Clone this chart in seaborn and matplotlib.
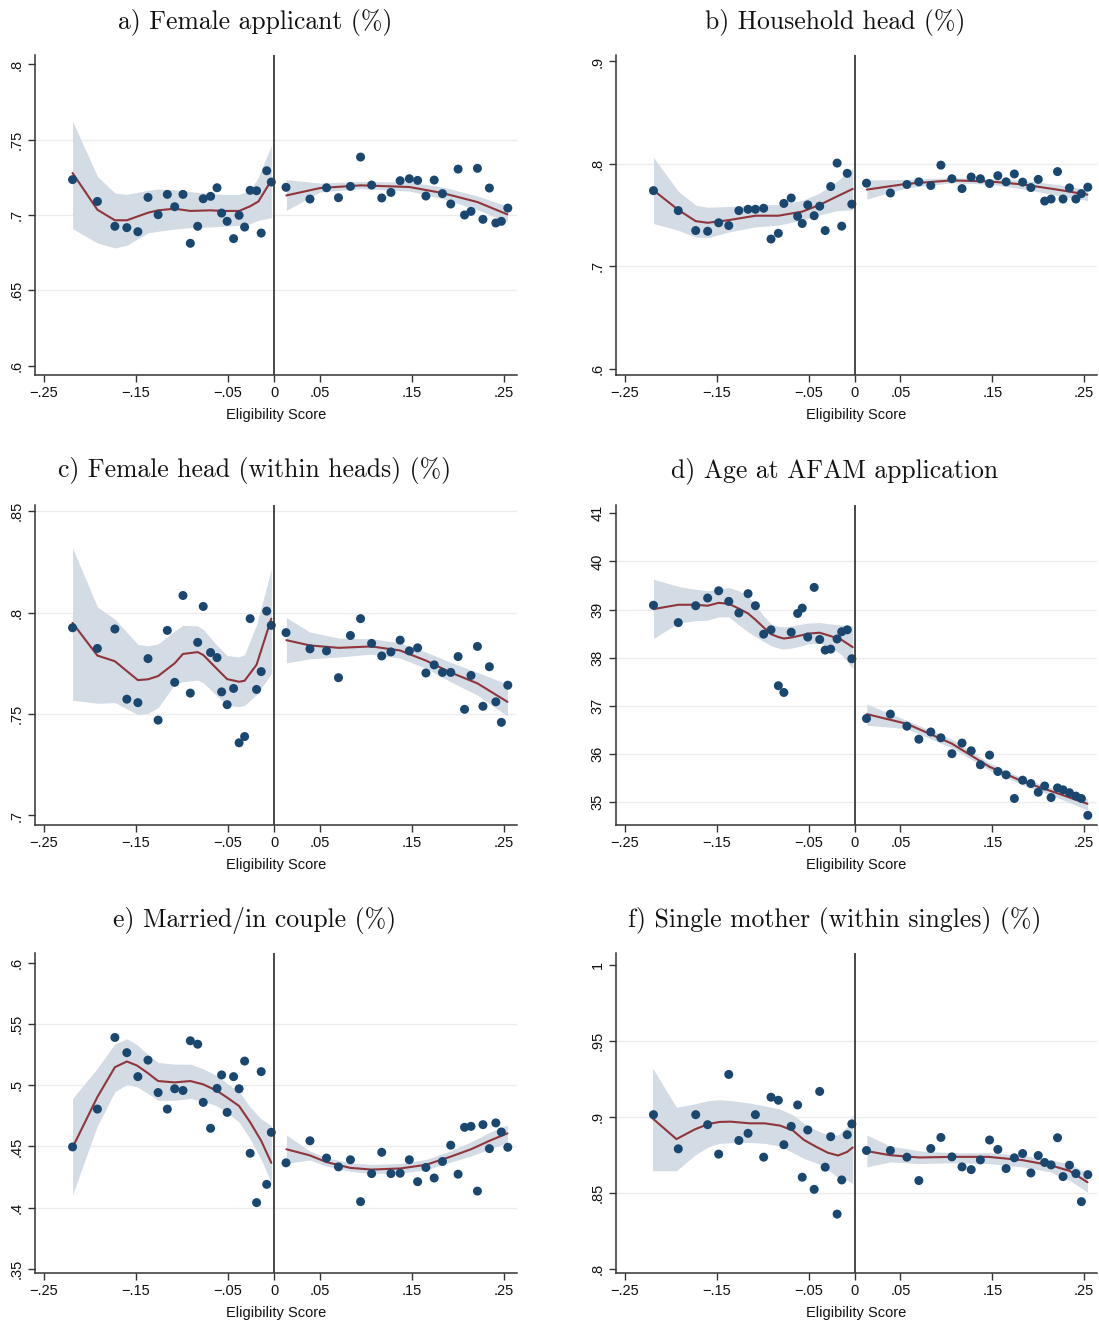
import numpy as np
import pandas as pd
import seaborn as sns
import matplotlib
matplotlib.use("Agg")
import matplotlib.pyplot as plt

sns.set_theme(style="ticks")
plt.rcParams['font.family'] = ['Liberation Sans', 'DejaVu Sans']
plt.rcParams['axes.unicode_minus'] = True

# ---------------- data ----------------
x_left = [-0.219, -0.192, -0.173, -0.160, -0.148, -0.137, -0.126, -0.116, -0.108, -0.099, -0.091, -0.083, -0.077,
          -0.069, -0.062, -0.057, -0.051, -0.044, -0.038, -0.032, -0.026, -0.019, -0.014, -0.008, -0.003]
x_right = [0.013, 0.039, 0.057, 0.070, 0.083, 0.094, 0.106, 0.117, 0.127, 0.137, 0.147, 0.156, 0.165,
           0.174, 0.183, 0.192, 0.200, 0.207, 0.214, 0.221, 0.227, 0.234, 0.241, 0.247, 0.254]

titles = ["a) Female applicant (%)", "b) Household head (%)", "c) Female head (within heads) (%)",
          "d) Age at AFAM application", "e) Married/in couple (%)", "f) Single mother (within singles) (%)"]
xtick_vals = [-0.25, -0.15, -0.05, 0, 0.05, 0.15, 0.25]
xtick_labels = ["\u2212.25", "\u2212.15", "\u2212.05", "0", ".05", ".15", ".25"]

# panel a
a_left = [0.7235, 0.709, 0.6925, 0.6916, 0.6889, 0.7117, 0.7002, 0.7137, 0.7055, 0.7137, 0.6812, 0.6925, 0.7108,
          0.7124, 0.7181, 0.7013, 0.6958, 0.6843, 0.6998, 0.692, 0.7164, 0.7161, 0.688, 0.7294, 0.7219]
a_right = [0.7184, 0.7106, 0.7181, 0.7115, 0.719, 0.7385, 0.7199, 0.7113, 0.715, 0.7228, 0.7241, 0.723, 0.7126,
           0.7232, 0.7142, 0.7073, 0.7305, 0.7, 0.7024, 0.731, 0.6971, 0.7179, 0.6947, 0.6958, 0.7046]
a_fitL_x = [-0.219, -0.192, -0.173, -0.160, -0.137, -0.126, -0.108, -0.091, -0.069, -0.057, -0.038, -0.026, -0.017, -0.003]
a_fitL = [0.7279, 0.7035, 0.6965, 0.6965, 0.7015, 0.7031, 0.7042, 0.7027, 0.7031, 0.7027, 0.7027, 0.7058, 0.7090, 0.7230]
a_fitL_hi = [0.7624, 0.7257, 0.7146, 0.7137, 0.7164, 0.7173, 0.7168, 0.7155, 0.7142, 0.7137, 0.7137, 0.7164, 0.7252, 0.7462]
a_fitL_lo = [0.6909, 0.6814, 0.6781, 0.6799, 0.6881, 0.6892, 0.6907, 0.6916, 0.6920, 0.6925, 0.6931, 0.6942, 0.6965, 0.6982]
a_fitR_x = [0.0134, 0.05, 0.0942, 0.1471, 0.183, 0.221, 0.2536]
a_fitR = [0.7130, 0.7179, 0.7197, 0.7186, 0.7146, 0.7086, 0.7004]
a_fitR_hi = [0.7235, 0.7212, 0.7223, 0.7219, 0.7186, 0.7126, 0.7058]
a_fitR_lo = [0.7031, 0.7153, 0.7175, 0.7159, 0.7108, 0.7035, 0.6954]

# panel b
b_left = [0.7738, 0.7543, 0.7348, 0.7341, 0.7424, 0.7397, 0.7543, 0.7556, 0.7556, 0.7566, 0.7265, 0.7321, 0.7613,
          0.7666, 0.7487, 0.7417, 0.7599, 0.7493, 0.7586, 0.7348, 0.7778, 0.8007, 0.7391, 0.7907, 0.7606]
b_right = [0.7811, 0.7715, 0.7798, 0.7824, 0.7788, 0.7987, 0.7854, 0.7758, 0.7871, 0.7854, 0.7808, 0.7884, 0.7824,
           0.7901, 0.7821, 0.7768, 0.7848, 0.7636, 0.7656, 0.7924, 0.7656, 0.7765, 0.7656, 0.7709, 0.7772]
b_fitL_x = [-0.219, -0.192, -0.173, -0.160, -0.137, -0.108, -0.083, -0.057, -0.038, -0.019, -0.002]
b_fitL = [0.7742, 0.7550, 0.7440, 0.7424, 0.7450, 0.7493, 0.7493, 0.7533, 0.7599, 0.7682, 0.7755]
b_fitL_hi = [0.8063, 0.7732, 0.7596, 0.7576, 0.7583, 0.7596, 0.7603, 0.7642, 0.7715, 0.7831, 0.7954]
b_fitL_lo = [0.7417, 0.7351, 0.7285, 0.7278, 0.7334, 0.7384, 0.7401, 0.7450, 0.7500, 0.7543, 0.7550]
b_fitR_x = [0.0134, 0.0569, 0.1058, 0.1467, 0.1833, 0.2207, 0.2536]
b_fitR = [0.7748, 0.7805, 0.7838, 0.7828, 0.7798, 0.7748, 0.7699]
b_fitR_hi = [0.7841, 0.7848, 0.7864, 0.7854, 0.7838, 0.7798, 0.7748]
b_fitR_lo = [0.7656, 0.7765, 0.7815, 0.7801, 0.7755, 0.7692, 0.7642]

# panel c
c_left = [0.7925, 0.7823, 0.7919, 0.7573, 0.7556, 0.7773, 0.747, 0.7912, 0.7656, 0.8084, 0.7603, 0.7853, 0.803,
          0.7803, 0.7778, 0.7609, 0.7546, 0.7626, 0.7358, 0.7389, 0.797, 0.7621, 0.7709, 0.8007, 0.7937]
c_right = [0.7901, 0.7821, 0.7811, 0.7679, 0.7887, 0.797, 0.7848, 0.7786, 0.7806, 0.7864, 0.7811, 0.7826, 0.7702,
           0.7742, 0.7705, 0.7705, 0.7783, 0.7523, 0.769, 0.7833, 0.7538, 0.7733, 0.756, 0.7459, 0.7642]
c_fitL_x = [-0.219, -0.192, -0.173, -0.148, -0.137, -0.126, -0.108, -0.099, -0.083, -0.077, -0.062, -0.051, -0.038,
            -0.032, -0.019, -0.003]
c_fitL = [0.7949, 0.7788, 0.7760, 0.7667, 0.7671, 0.7687, 0.7750, 0.7796, 0.7805, 0.7791, 0.7722, 0.7672, 0.7659,
          0.7664, 0.7743, 0.7970]
c_fitL_hi = [0.8318, 0.8028, 0.7967, 0.7843, 0.7836, 0.7846, 0.7909, 0.7937, 0.7934, 0.7917, 0.7838, 0.7788, 0.7781,
             0.7793, 0.7940, 0.8214]
c_fitL_lo = [0.7568, 0.7553, 0.7556, 0.7497, 0.7503, 0.7531, 0.7647, 0.7659, 0.7667, 0.7654, 0.7589, 0.7543, 0.7536,
             0.7543, 0.7596, 0.7697]
c_fitR_x = [0.0134, 0.0388, 0.0703, 0.1058, 0.137, 0.1652, 0.1917, 0.221, 0.2536]
c_fitR = [0.7864, 0.7838, 0.7826, 0.7833, 0.7813, 0.7763, 0.7705, 0.7651, 0.7560]
c_fitR_hi = [0.7975, 0.7904, 0.7874, 0.7871, 0.7851, 0.7805, 0.7755, 0.7705, 0.7647]
c_fitR_lo = [0.7752, 0.7772, 0.7781, 0.7795, 0.7775, 0.7725, 0.7659, 0.7593, 0.7490]

# panel d
d_left = [39.09, 38.73, 39.08, 39.24, 39.39, 39.17, 38.93, 39.33, 39.08, 38.49, 38.58, 37.42, 37.28, 38.53, 38.92,
          39.03, 38.43, 39.46, 38.38, 38.16, 38.18, 38.39, 38.54, 38.58, 37.98]
d_right = [36.74, 36.83, 36.58, 36.31, 36.46, 36.34, 36.01, 36.23, 36.07, 35.78, 35.98, 35.64, 35.57, 35.08, 35.46,
           35.39, 35.21, 35.34, 35.10, 35.30, 35.26, 35.20, 35.13, 35.08, 34.73]
d_fitL_x = [-0.219, -0.192, -0.173, -0.160, -0.148, -0.137, -0.126, -0.116, -0.108, -0.099, -0.091, -0.083, -0.077,
            -0.069, -0.057, -0.051, -0.038, -0.026, -0.014, -0.002]
d_fitL = [39.01, 39.10, 39.10, 39.08, 39.14, 39.12, 39.02, 38.92, 38.79, 38.63, 38.49, 38.43, 38.40, 38.42, 38.47,
          38.50, 38.52, 38.45, 38.37, 38.22]
d_fitL_hi = [39.63, 39.48, 39.42, 39.39, 39.42, 39.46, 39.39, 39.27, 39.10, 38.87, 38.70, 38.65, 38.64, 38.66, 38.70,
             38.72, 38.73, 38.70, 38.68, 38.66]
d_fitL_lo = [38.40, 38.72, 38.77, 38.78, 38.85, 38.85, 38.68, 38.54, 38.44, 38.34, 38.25, 38.20, 38.18, 38.20, 38.25,
             38.29, 38.30, 38.22, 38.06, 37.78]
d_fitR_x = [0.0134, 0.0569, 0.1058, 0.1467, 0.1833, 0.2207, 0.2536]
d_fitR = [36.83, 36.63, 36.22, 35.74, 35.43, 35.19, 34.97]
d_fitR_hi = [37.04, 36.70, 36.31, 35.82, 35.50, 35.26, 35.08]
d_fitR_lo = [36.60, 36.53, 36.13, 35.67, 35.36, 35.10, 34.84]

# panel e
e_left = [0.4496, 0.4805, 0.539, 0.5266, 0.507, 0.5205, 0.494, 0.4805, 0.4971, 0.4957, 0.5363, 0.5335, 0.486,
          0.4648, 0.4974, 0.5084, 0.4778, 0.507, 0.4971, 0.5197, 0.4444, 0.4041, 0.5111, 0.419, 0.4615]
e_right = [0.4366, 0.4546, 0.4405, 0.4333, 0.4391, 0.4049, 0.4278, 0.4452, 0.4278, 0.4281, 0.4391, 0.4212, 0.4328,
           0.4242, 0.4377, 0.451, 0.4273, 0.4656, 0.4664, 0.4135, 0.4678, 0.4482, 0.4692, 0.4618, 0.4493]
e_fitL_x = [-0.219, -0.192, -0.173, -0.160, -0.149, -0.137, -0.126, -0.108, -0.091, -0.077, -0.062, -0.051, -0.038,
            -0.026, -0.014, -0.003]
e_fitL = [0.4491, 0.4904, 0.5147, 0.5194, 0.5161, 0.5098, 0.5034, 0.5023, 0.5034, 0.5007, 0.4954, 0.4899, 0.4830,
          0.4698, 0.4546, 0.4366]
e_fitL_hi = [0.4891, 0.5139, 0.5338, 0.5379, 0.5332, 0.5249, 0.5186, 0.5172, 0.5172, 0.5134, 0.5078, 0.5015, 0.4946,
             0.4822, 0.4725, 0.4670]
e_fitL_lo = [0.4104, 0.4670, 0.4946, 0.5007, 0.4987, 0.4932, 0.4877, 0.4877, 0.4891, 0.4869, 0.4830, 0.4775, 0.4698,
             0.4560, 0.4394, 0.4201]
e_fitR_x = [0.0134, 0.0388, 0.0569, 0.0826, 0.1058, 0.1373, 0.1652, 0.1917, 0.2141, 0.2341, 0.2536]
e_fitR = [0.4477, 0.4427, 0.4372, 0.4325, 0.4311, 0.4320, 0.4350, 0.4416, 0.4477, 0.4546, 0.4607]
e_fitR_hi = [0.4593, 0.4463, 0.4408, 0.4366, 0.4353, 0.4361, 0.4394, 0.4463, 0.4538, 0.4615, 0.4675]
e_fitR_lo = [0.4361, 0.4389, 0.4339, 0.4297, 0.4278, 0.4284, 0.4308, 0.4372, 0.4422, 0.4477, 0.4532]

# panel f
f_left = [0.9015, 0.879, 0.9015, 0.8949, 0.8755, 0.928, 0.8845, 0.8892, 0.9015, 0.8735, 0.913, 0.911, 0.8817,
          0.8938, 0.9079, 0.8603, 0.8914, 0.8523, 0.9168, 0.8669, 0.887, 0.836, 0.8585, 0.8883, 0.8954]
f_right = [0.8779, 0.8779, 0.8735, 0.8581, 0.8792, 0.8865, 0.8737, 0.8671, 0.8653, 0.8717, 0.8848, 0.8786, 0.866,
           0.8731, 0.8759, 0.8631, 0.8746, 0.87, 0.8684, 0.8863, 0.8607, 0.8682, 0.8627, 0.8442, 0.862]
f_fitL_x = [-0.220, -0.194, -0.174, -0.159, -0.147, -0.135, -0.114, -0.098, -0.081, -0.067, -0.055, -0.042, -0.029,
            -0.018, -0.008, -0.002]
f_fitL = [0.8991, 0.8854, 0.8918, 0.8954, 0.8967, 0.8969, 0.8958, 0.8958, 0.8943, 0.8910, 0.8848, 0.8804, 0.8764,
          0.8746, 0.8770, 0.8799]
f_fitL_hi = [0.9322, 0.9064, 0.9086, 0.9108, 0.9113, 0.9108, 0.9091, 0.9073, 0.9051, 0.9013, 0.8958, 0.8914, 0.8881,
             0.8881, 0.8936, 0.9020]
f_fitL_lo = [0.8645, 0.8645, 0.8748, 0.8804, 0.8826, 0.8830, 0.8832, 0.8826, 0.8808, 0.8764, 0.8726, 0.8698, 0.8653,
             0.8600, 0.8583, 0.8561]
f_fitR_x = [0.0134, 0.0388, 0.0703, 0.1054, 0.1460, 0.1833, 0.2130, 0.2341, 0.2536]
f_fitR = [0.8775, 0.8748, 0.8733, 0.8737, 0.8737, 0.8715, 0.8682, 0.8645, 0.8570]
f_fitR_hi = [0.8881, 0.8808, 0.8777, 0.8764, 0.8764, 0.8748, 0.8715, 0.8693, 0.8627]
f_fitR_lo = [0.8671, 0.8704, 0.8693, 0.8698, 0.8693, 0.8671, 0.8638, 0.8583, 0.8505]

yticks = {
    'a': ([0.6, 0.65, 0.7, 0.75, 0.8], [".6", ".65", ".7", ".75", ".8"]),
    'b': ([0.6, 0.7, 0.8, 0.9], [".6", ".7", ".8", ".9"]),
    'c': ([0.7, 0.75, 0.8, 0.85], [".7", ".75", ".8", ".85"]),
    'd': ([35, 36, 37, 38, 39, 40, 41], ["35", "36", "37", "38", "39", "40", "41"]),
    'e': ([0.35, 0.4, 0.45, 0.5, 0.55, 0.6], [".35", ".4", ".45", ".5", ".55", ".6"]),
    'f': ([0.8, 0.85, 0.9, 0.95, 1.0], [".8", ".85", ".9", ".95", "1"]),
}
grids = {
    'a': [0.65, 0.7, 0.75], 'b': [0.7, 0.8], 'c': [0.75, 0.8, 0.85],
    'd': [35, 36, 37, 38, 39, 40], 'e': [0.4, 0.45, 0.5, 0.55], 'f': [0.85, 0.9, 0.95],
}
ylims = {'a': (0.5937, 0.8063), 'b': (0.5937, 0.9063), 'c': (0.6953, 0.8530), 'd': (34.53, 41.17),
         'e': (0.3466, 0.6080), 'f': (0.7972, 1.0080)}

panels = {
    'a': (a_left, a_right, (a_fitL_x, a_fitL, a_fitL_lo, a_fitL_hi), (a_fitR_x, a_fitR, a_fitR_lo, a_fitR_hi)),
    'b': (b_left, b_right, (b_fitL_x, b_fitL, b_fitL_lo, b_fitL_hi), (b_fitR_x, b_fitR, b_fitR_lo, b_fitR_hi)),
    'c': (c_left, c_right, (c_fitL_x, c_fitL, c_fitL_lo, c_fitL_hi), (c_fitR_x, c_fitR, c_fitR_lo, c_fitR_hi)),
    'd': (d_left, d_right, (d_fitL_x, d_fitL, d_fitL_lo, d_fitL_hi), (d_fitR_x, d_fitR, d_fitR_lo, d_fitR_hi)),
    'e': (e_left, e_right, (e_fitL_x, e_fitL, e_fitL_lo, e_fitL_hi), (e_fitR_x, e_fitR, e_fitR_lo, e_fitR_hi)),
    'f': (f_left, f_right, (f_fitL_x, f_fitL, f_fitL_lo, f_fitL_hi), (f_fitR_x, f_fitR, f_fitR_lo, f_fitR_hi)),
}

# ---------------- style ----------------
NAVY = "#1a476f"
MAROON = "#90353b"
BAND = "#d3dbe4"
W, H = 1099, 1321
fig = plt.figure(figsize=(W / 100, H / 100), dpi=100)
fig.patch.set_facecolor("white")

cols = [(35, 517), (616, 1097)]
rows = [(55, 375), (505, 825), (953, 1273)]
title_x = [255, 835]
title_y = [23, 471, 920]

for i, key in enumerate("abcdef"):
    r, c = divmod(i, 2)
    l, rt = cols[c]
    t, b = rows[r]
    ax = fig.add_axes([l / W, 1 - b / H, (rt - l) / W, (b - t) / H])
    ax.set_facecolor("white")
    left_y, right_y, fitL, fitR = panels[key]

    for g in grids[key]:
        ax.axhline(g, color="#ececec", lw=1.0, zorder=0)

    for fx, fy, flo, fhi in (fitL, fitR):
        ax.fill_between(fx, flo, fhi, color=BAND, lw=0, zorder=1)
        sns.lineplot(x=fx, y=fy, ax=ax, color=MAROON, lw=1.5, sort=False, estimator=None, zorder=2)

    df = pd.DataFrame({"x": x_left + x_right, "y": left_y + right_y})
    sns.scatterplot(data=df, x="x", y="y", ax=ax, color=NAVY, s=42, edgecolor="none", linewidth=0, zorder=3)

    ax.axvline(0, color="#3a3a3a", lw=1.3, zorder=4)

    ax.set_xlim(-0.2598, 0.264)
    ax.set_ylim(*ylims[key])
    ax.set_xticks(xtick_vals)
    ax.set_xticklabels(xtick_labels)
    yt, yl = yticks[key]
    ax.set_yticks(yt)
    ax.set_yticklabels(yl, rotation=90, va="center")
    ax.tick_params(axis="both", direction="out", length=5, width=1, color="#333333",
                   labelsize=10.5, labelcolor="#111111", pad=3)
    for s in ("top", "right"):
        ax.spines[s].set_visible(False)
    for s in ("left", "bottom"):
        ax.spines[s].set_color("#333333")
        ax.spines[s].set_linewidth(1.1)
    ax.set_xlabel("Eligibility Score", fontsize=10.5, color="#111111", labelpad=6)
    ax.set_ylabel("")
    ax.grid(False)

    fig.text(title_x[c] / W, 1 - title_y[r] / H, titles[i], ha="center", va="center",
             fontsize=18.5, family=["cmr10", "DejaVu Serif"], color="#111111")

fig.savefig("out.png", dpi=100, facecolor="white")
